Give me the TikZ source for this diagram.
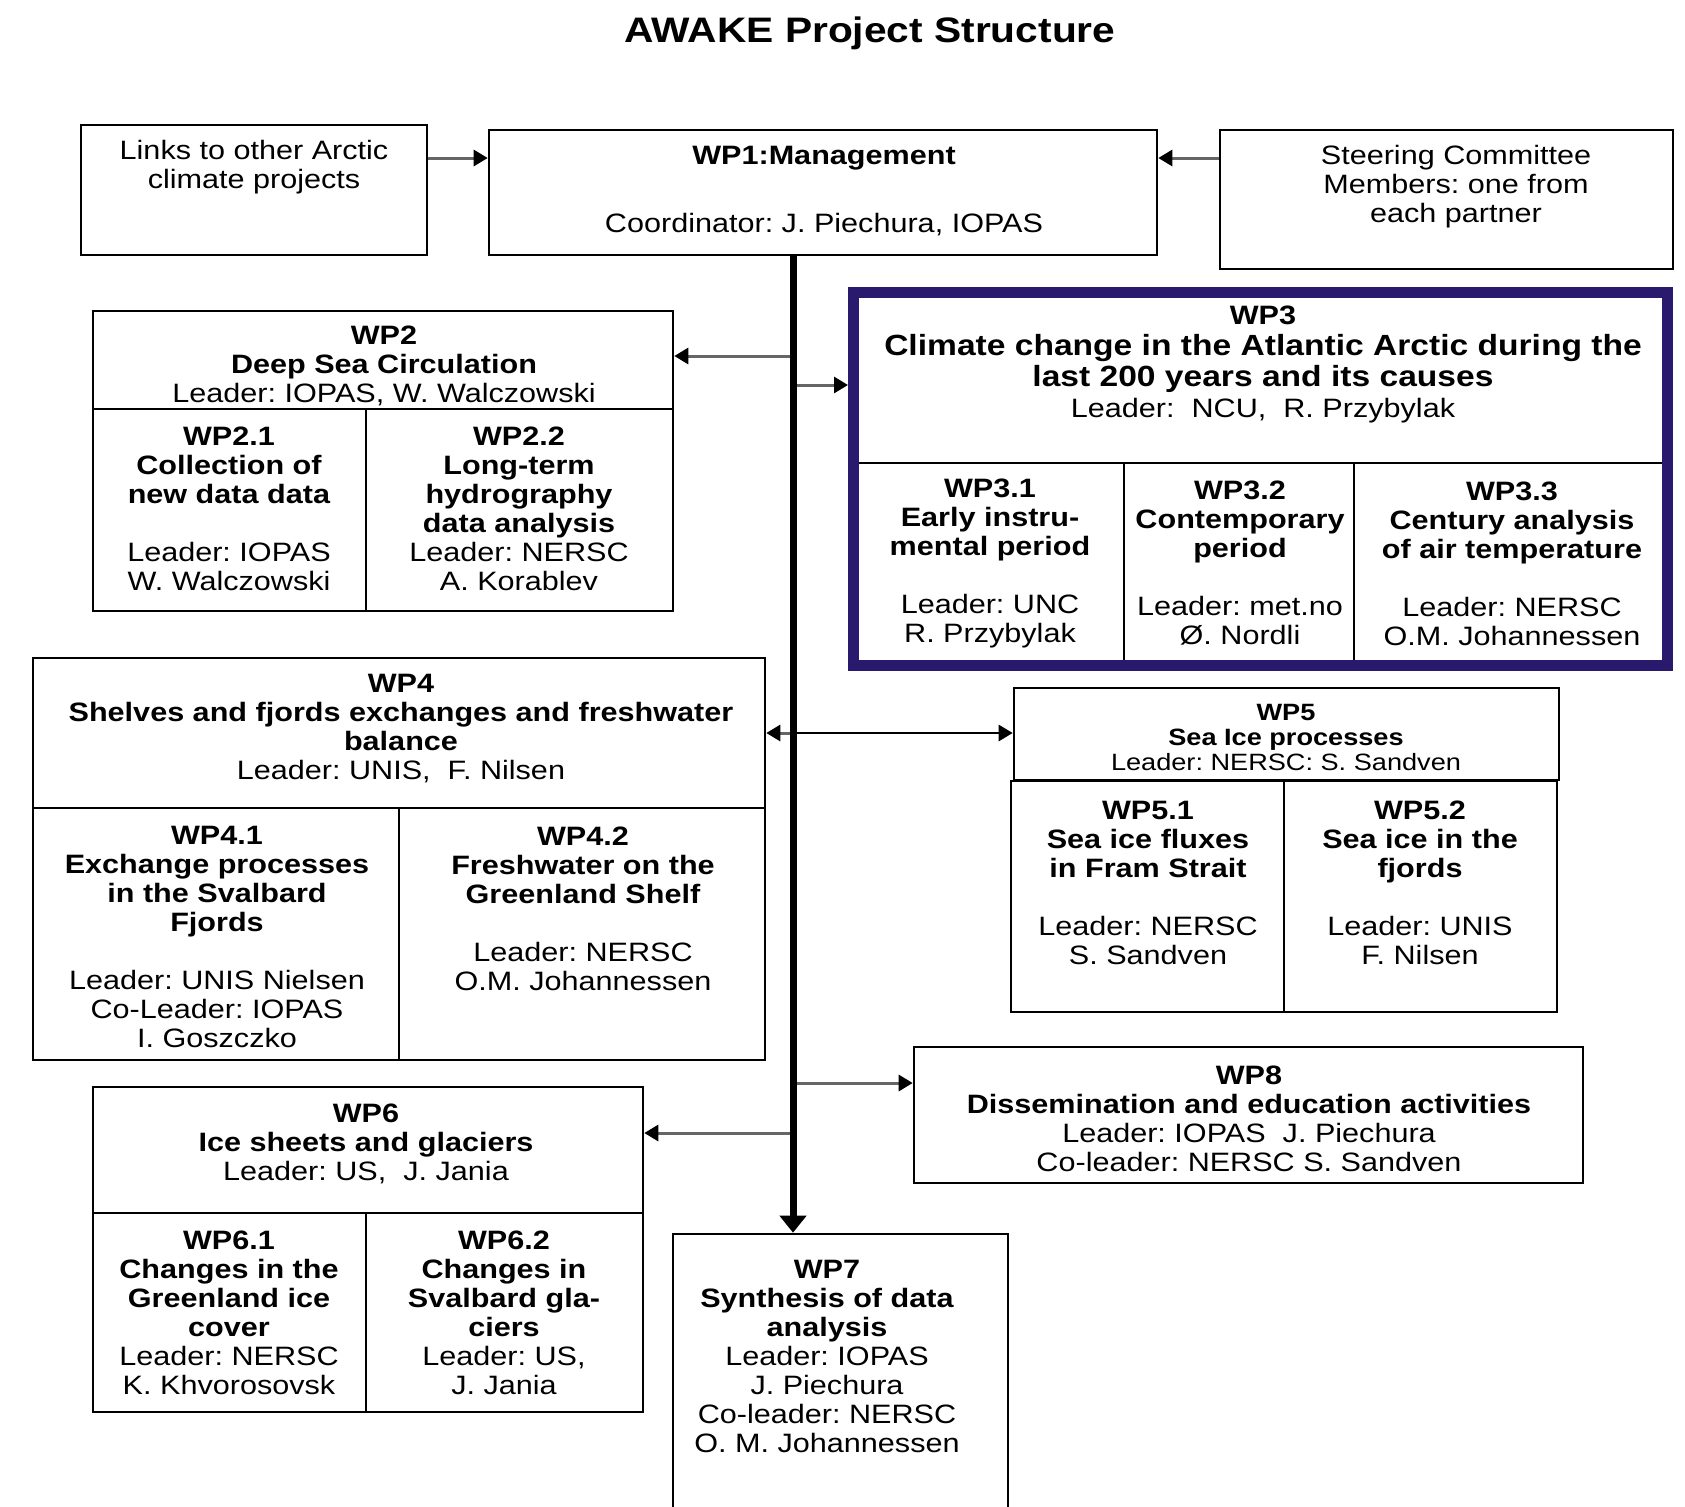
\documentclass[tikz,border=0pt]{standalone}
\usepackage{fontspec}
\setmainfont{Liberation Sans}[FakeStretch=1.15]
\usetikzlibrary{positioning,arrows.meta}
\definecolor{wpnavy}{RGB}{42,26,110}
\frenchspacing

\begin{document}
\begin{tikzpicture}[x=0.5pt,y=-0.5pt,
  box/.style={draw,line width=1.3pt,inner sep=0pt},
  txt/.style={align=center,inner sep=0pt,yshift=-1.5pt,font=\fontsize{13.3pt}{14.5pt}\selectfont},
  small/.style={align=center,inner sep=0pt,yshift=-1pt,font=\fontsize{11.8pt}{12.5pt}\selectfont},
  feed/.style={line width=1.5pt,black!60,-{Triangle[length=7pt,width=8pt,color=black]}},
  feedk/.style={line width=1.3pt,black,-{Triangle[length=7pt,width=8pt]}},
  spine/.style={line width=3.5pt,-{Triangle[length=8.5pt,width=13pt]}}]
\useasboundingbox (0,0) rectangle (1685,1506);

\node[font=\fontsize{17.7pt}{20pt}\selectfont\bfseries] (title) at (870,33) {AWAKE Project Structure};

% top row
\node[box,minimum width=173pt,minimum height=65pt] (links) at (254,190) {};
\node[txt] (linkst) at (254,164) {Links to other Arctic\\climate projects};
\node[box,minimum width=334pt,minimum height=62.5pt] (wp1) at (823,192.5) {};
\node[txt] (wp1a) at (824,155) {\textbf{WP1:Management}};
\node[txt] (wp1b) at (824,222) {Coordinator: J. Piechura, IOPAS};
\node[box,minimum width=226.5pt,minimum height=69.5pt] (steer) at (1446.5,199.5) {};
\node[txt] (steert) at (1456,184) {Steering Committee\\Members: one from\\each partner};

% WP2
\node[box,minimum width=290pt,minimum height=49pt] (wp2) at (383,360) {};
\node[box,minimum width=136.5pt,minimum height=101pt] (wp21) at (229.5,510) {};
\node[box,minimum width=153.5pt,minimum height=101pt] (wp22) at (519.5,510) {};
\node[txt] (wp2t) at (384,363) {\textbf{WP2}\\\textbf{Deep Sea Circulation}\\Leader: IOPAS, W. Walczowski};
\node[txt] (wp21t) at (229,505.5) {\textbf{WP2.1}\\\textbf{Collection of}\\\textbf{new data data}\\[14.5pt]Leader: IOPAS\\W. Walczowski};
\node[txt] (wp22t) at (519,505.5) {\textbf{WP2.2}\\\textbf{Long-term}\\\textbf{hydrography}\\\textbf{data analysis}\\Leader: NERSC\\A. Korablev};

% WP3
\node[box,minimum width=403.5pt,minimum height=83.5pt] (wp3h) at (1260.5,379.5) {};
\node[box,minimum width=133.5pt,minimum height=99.5pt] (wp31) at (990.5,562.5) {};
\node[box,minimum width=115pt,minimum height=99.5pt] (wp32) at (1239,562.5) {};
\node[box,minimum width=155pt,minimum height=99.5pt] (wp33) at (1509,562.5) {};
\node[draw=wpnavy,line width=5.5pt,inner sep=0pt,minimum width=407pt,minimum height=186.5pt] (wp3) at (1260.5,479) {};
\node[txt,font=\fontsize{14.6pt}{15.5pt}\selectfont\bfseries] (wp3t) at (1263,361) {{\fontsize{13.3pt}{15.5pt}\selectfont WP3}\\Climate change in the Atlantic Arctic during the\\last 200 years and its causes\\{\mdseries\fontsize{13.3pt}{15.5pt}\selectfont Leader:\ \ NCU,\ \ R. Przybylak}};
\node[txt] (wp31t) at (990,560.5) {\textbf{WP3.1}\\\textbf{Early instru-}\\\textbf{mental period}\\[14.5pt]Leader: UNC\\R. Przybylak};
\node[txt] (wp32t) at (1240,560.5) {\textbf{WP3.2}\\\textbf{Contemporary}\\\textbf{period}\\[14.5pt]Leader: met.no\\Ø. Nordli};
\node[txt] (wp33t) at (1512,560.5) {\textbf{WP3.3}\\\textbf{Century analysis}\\\textbf{of air temperature}\\[14.5pt]Leader: NERSC\\O.M. Johannessen};

% WP4
\node[box,minimum width=366pt,minimum height=75pt] (wp4) at (399,733) {};
\node[box,minimum width=183pt,minimum height=126pt] (wp41) at (216,934) {};
\node[box,minimum width=183pt,minimum height=126pt] (wp42) at (582,934) {};
\node[txt] (wp4t) at (401,726) {\textbf{WP4}\\\textbf{Shelves and fjords exchanges and freshwater}\\\textbf{balance}\\Leader: UNIS,\ \ F. Nilsen};
\node[txt] (wp41t) at (217,933.5) {\textbf{WP4.1}\\\textbf{Exchange processes}\\\textbf{in the Svalbard}\\\textbf{Fjords}\\[14.5pt]Leader: UNIS Nielsen\\Co-Leader: IOPAS\\I. Goszczko};
\node[txt] (wp42t) at (583,905.5) {\textbf{WP4.2}\\\textbf{Freshwater on the}\\\textbf{Greenland Shelf}\\[14.5pt]Leader: NERSC\\O.M. Johannessen};

% WP5
\node[box,minimum width=272.5pt,minimum height=46pt] (wp5) at (1286.5,734) {};
\node[box,minimum width=136.5pt,minimum height=115.5pt] (wp51) at (1147.5,896.5) {};
\node[box,minimum width=136.5pt,minimum height=115.5pt] (wp52) at (1420.5,896.5) {};
\node[small] (wp5t) at (1286,735) {\textbf{WP5}\\\textbf{Sea Ice processes}\\Leader: NERSC: S. Sandven};
\node[txt] (wp51t) at (1148,879.5) {\textbf{WP5.1}\\\textbf{Sea ice fluxes}\\\textbf{in Fram Strait}\\[14.5pt]Leader: NERSC\\S. Sandven};
\node[txt] (wp52t) at (1420,879.5) {\textbf{WP5.2}\\\textbf{Sea ice in the}\\\textbf{fjords}\\[14.5pt]Leader: UNIS\\F. Nilsen};

% WP8
\node[box,minimum width=334.5pt,minimum height=68pt] (wp8) at (1248.5,1115) {};
\node[txt] (wp8t) at (1249,1116) {\textbf{WP8}\\\textbf{Dissemination and education activities}\\Leader: IOPAS\ \ J. Piechura\\Co-leader: NERSC S. Sandven};

% WP6
\node[box,minimum width=275pt,minimum height=63pt] (wp6) at (368,1150) {};
\node[box,minimum width=136.5pt,minimum height=99.5pt] (wp61) at (229.5,1312.5) {};
\node[box,minimum width=138.5pt,minimum height=99.5pt] (wp62) at (504.5,1312.5) {};
\node[txt] (wp6t) at (366,1140.5) {\textbf{WP6}\\\textbf{Ice sheets and glaciers}\\Leader: US,\ \ J. Jania};
\node[txt] (wp61t) at (229,1309.5) {\textbf{WP6.1}\\\textbf{Changes in the}\\\textbf{Greenland ice}\\\textbf{cover}\\Leader: NERSC\\K. Khvorosovsk};
\node[txt] (wp62t) at (504,1309.5) {\textbf{WP6.2}\\\textbf{Changes in}\\\textbf{Svalbard gla-}\\\textbf{ciers}\\Leader: US,\\J. Jania};

% WP7
\node[box,minimum width=167.5pt,minimum height=146pt] (wp7) at (840.5,1380) {};
\node[txt] (wp7t) at (827,1353.5) {\textbf{WP7}\\\textbf{Synthesis of data}\\\textbf{analysis}\\Leader: IOPAS\\J. Piechura\\Co-leader: NERSC\\O. M. Johannessen};

% connectors
\draw[feed] (links.east |- wp1a) -- (wp1.west |- wp1a);
\draw[feed] (steer.west |- wp1a) -- (wp1.east |- wp1a);
\coordinate (sp) at (793,0);
\coordinate (b2) at (793,356);
\coordinate (b3) at (793,385);
\coordinate (b4) at (793,733);
\coordinate (b8) at (793,1083);
\coordinate (b6) at (793,1133);
\draw[feed] (b2) -- (b2 -| wp2.east);
\draw[feed] (b3) -- (b3 -| wp3.west);
\draw[feed] (b4) -- (b4 -| wp4.east);
\draw[feedk] (b4) -- (b4 -| wp5.west);
\draw[feed] (b8) -- (b8 -| wp8.west);
\draw[feed] (b6) -- (b6 -| wp6.east);
\draw[spine] (sp |- wp1.south) -- (sp |- wp7.north);
\end{tikzpicture}
\end{document}
